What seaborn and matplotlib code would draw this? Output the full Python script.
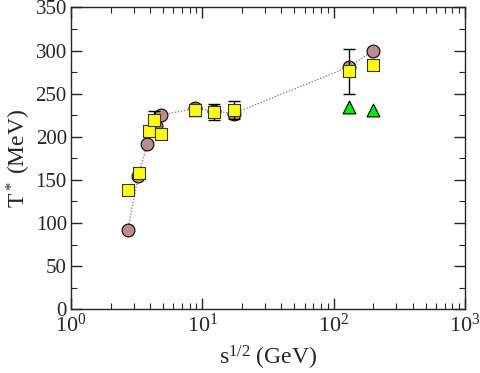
import matplotlib
matplotlib.use('Agg')
import matplotlib.pyplot as plt
import seaborn as sns
import pandas as pd
from matplotlib.ticker import MultipleLocator, LogLocator

# datos
sqrt_s_circ = [2.7, 3.25, 3.8, 4.4, 4.8, 8.8, 12.3, 17.3, 130, 200]
t_circ = [92, 154, 192, 212, 225, 233, 230, 227, 281, 300]

sqrt_s_sq = [2.7, 3.3, 3.9, 4.25, 4.86, 8.8, 12.3, 17.3, 130, 200]
t_sq = [138, 158, 207, 220, 203, 231, 229, 231, 276, 283]
err_sq = [0, 0, 0, 10, 0, 7, 9, 10, 26, 0]

sqrt_s_tri = [130, 200]
t_tri = [234, 231]

df_circ = pd.DataFrame({'s': sqrt_s_circ, 'T': t_circ})
df_sq = pd.DataFrame({'s': sqrt_s_sq, 'T': t_sq, 'err': err_sq})
df_tri = pd.DataFrame({'s': sqrt_s_tri, 'T': t_tri})


def configurar_graficos():
    sns.set_style('ticks')
    plt.rcParams['font.family'] = ['Liberation Serif', 'DejaVu Serif']
    plt.rcParams['mathtext.fontset'] = 'custom'
    plt.rcParams['mathtext.rm'] = 'Liberation Serif'
    plt.rcParams['mathtext.it'] = 'Liberation Serif:italic'
    plt.rcParams['axes.linewidth'] = 1.0


configurar_graficos()
fig = plt.figure(figsize=(4.8, 3.73), dpi=100)
ax = fig.add_axes([0.148, 0.171, 0.821, 0.809])

sns.lineplot(data=df_circ, x='s', y='T', ax=ax, color='#8a8a8a', lw=1.0,
             linestyle=(0, (1, 1.2)), zorder=1, sort=True)
sns.scatterplot(data=df_circ, x='s', y='T', ax=ax, marker='o', s=85,
                color='#bc8c8c', edgecolor='black', linewidth=0.8, zorder=2)

err = df_sq[df_sq['err'] > 0]
ax.errorbar(err['s'], err['T'], yerr=err['err'], fmt='none', ecolor='black',
            elinewidth=1.0, capsize=4, capthick=1.0, zorder=3)
sns.scatterplot(data=df_sq, x='s', y='T', ax=ax, marker='s', s=70,
                color='#ffff00', edgecolor='#333333', linewidth=0.8, zorder=4)
sns.scatterplot(data=df_tri, x='s', y='T', ax=ax, marker='^', s=85,
                color='#00ee00', edgecolor='black', linewidth=0.8, zorder=4)

ax.set_xscale('log')
ax.set_xlim(1, 1000)
ax.set_ylim(0, 350)
ax.yaxis.set_major_locator(MultipleLocator(50))
ax.yaxis.set_minor_locator(MultipleLocator(25))
ax.xaxis.set_major_locator(LogLocator(base=10, numticks=10))
ax.xaxis.set_minor_locator(LogLocator(base=10, subs=range(2, 10), numticks=20))

ax.tick_params(which='both', direction='in', top=True, right=True)
ax.tick_params(axis='y', labelsize=15, pad=3)
ax.tick_params(axis='x', labelsize=16, pad=3)
ax.tick_params(which='major', length=8, width=1.0)
ax.tick_params(which='minor', length=4, width=0.8)

ax.set_xlabel(r'$\mathregular{s^{1/2}}$ (GeV)', fontsize=17, labelpad=5)
ax.set_ylabel(r'$\mathregular{T^*}$ (MeV)', fontsize=17, labelpad=2)

fig.savefig('out.png', dpi=100)
